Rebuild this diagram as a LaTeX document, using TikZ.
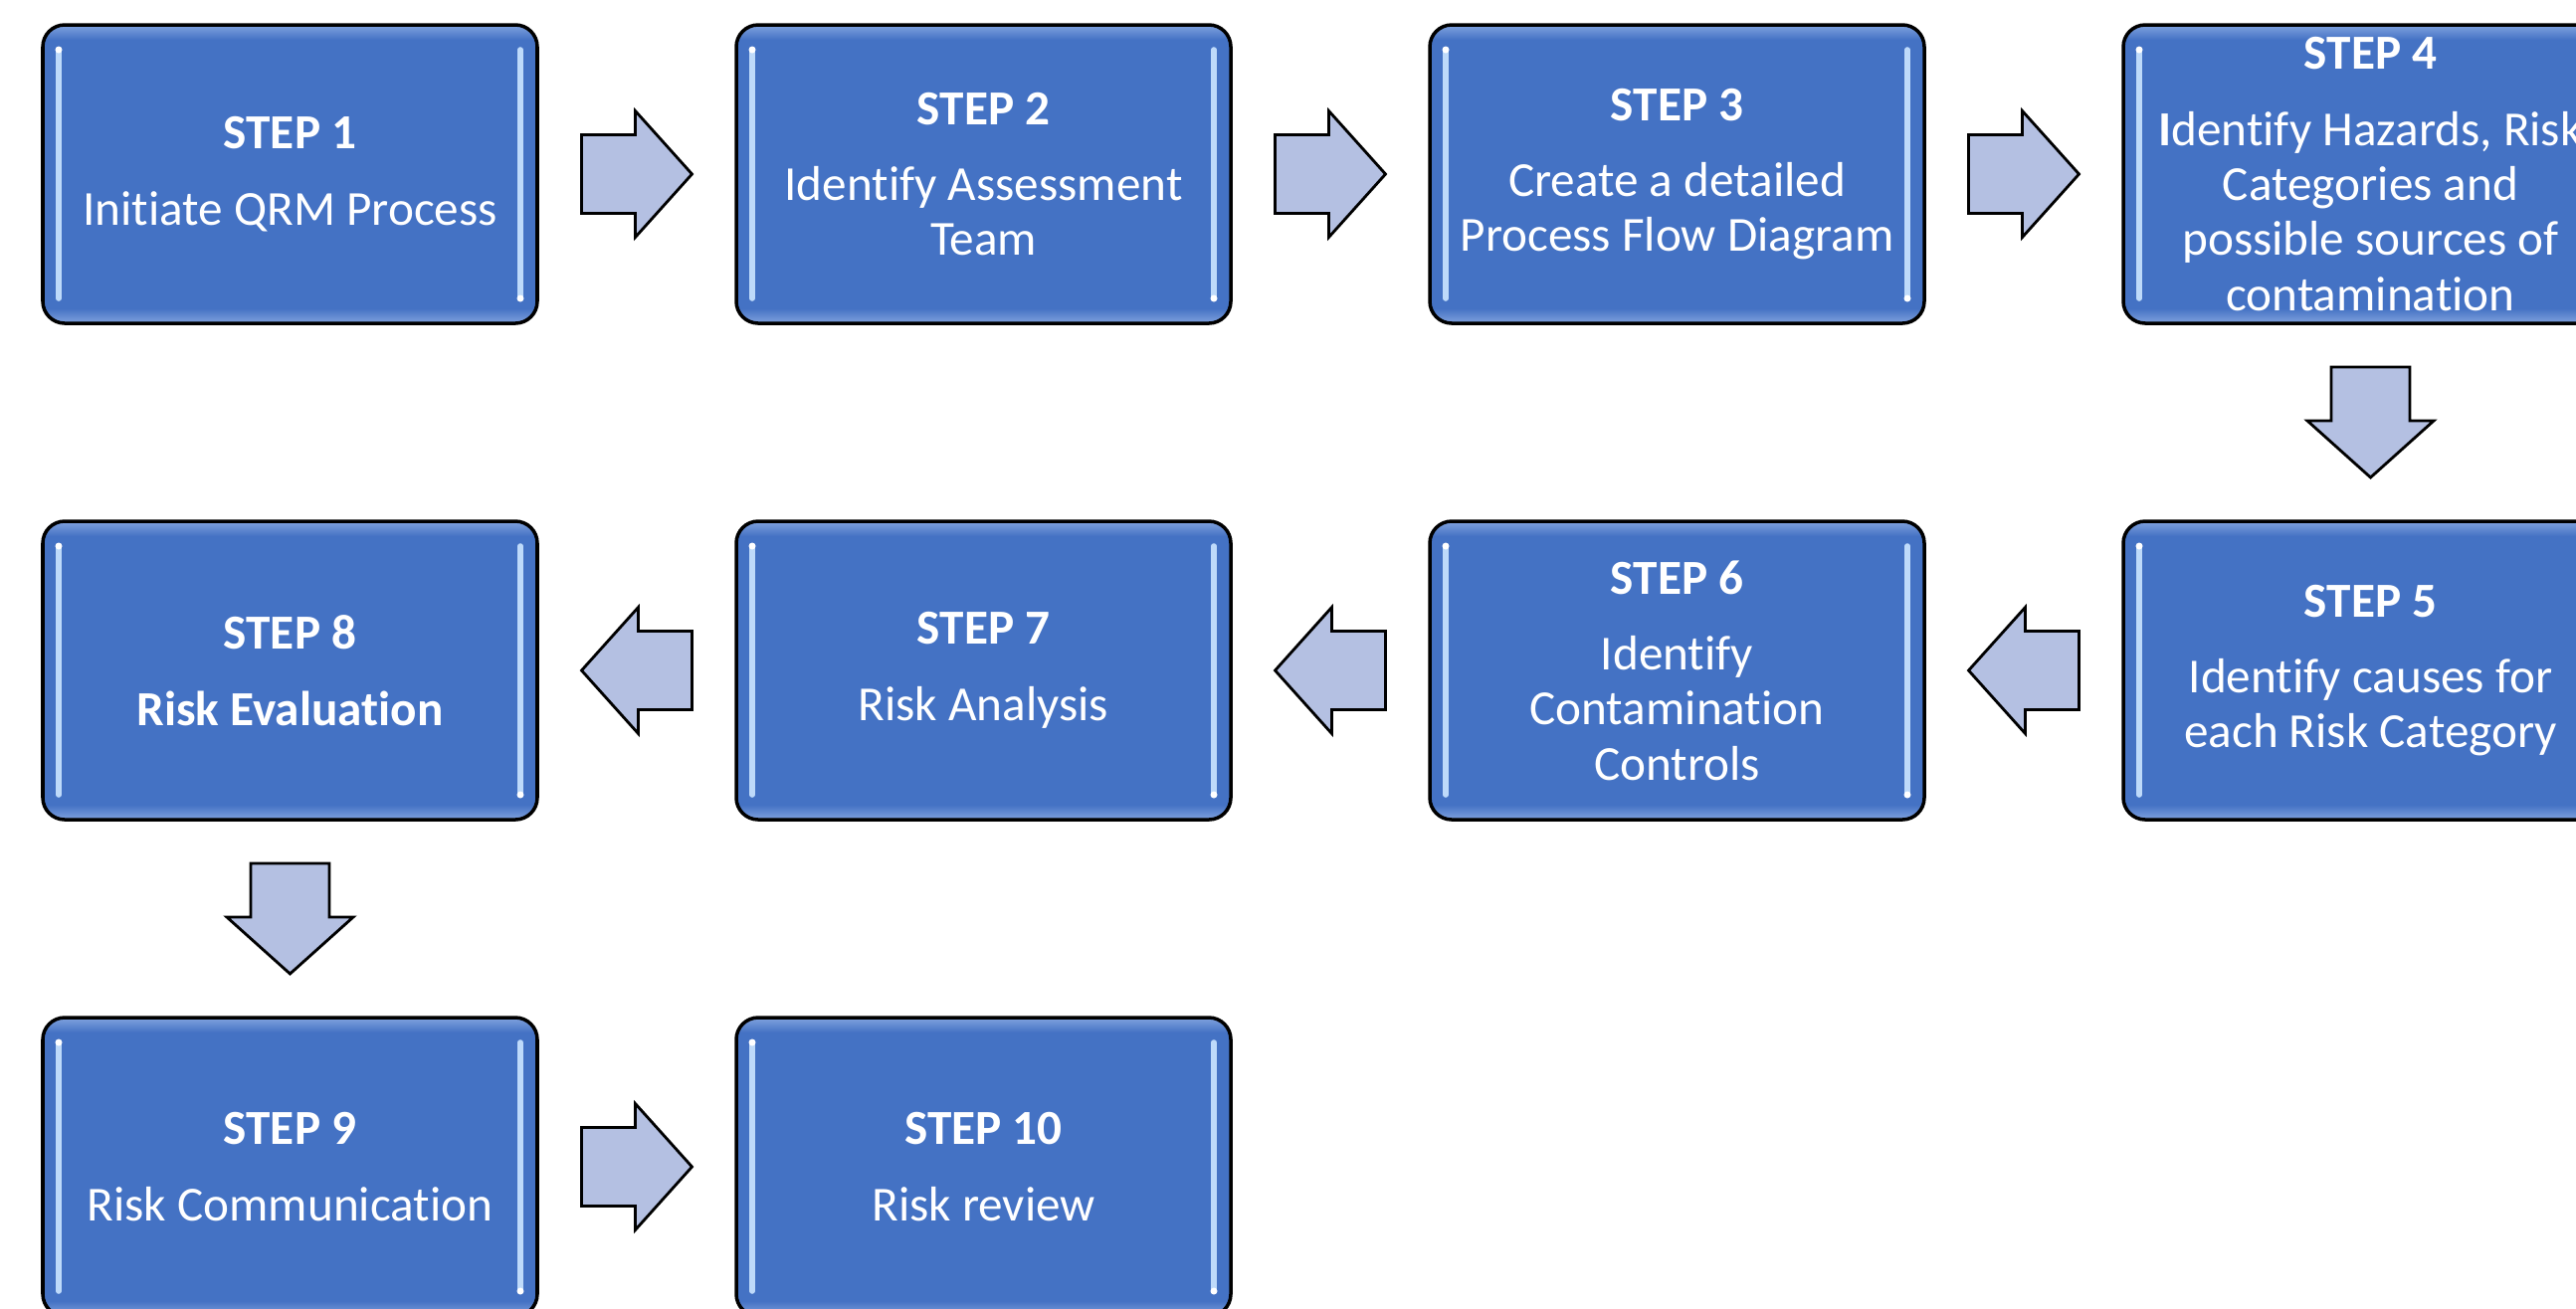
\documentclass[tikz,border=0pt]{standalone}
\usepackage{fontspec}
\setmainfont{Carlito}[Ligatures={NoCommon}]
\usepackage{tikz}
\usetikzlibrary{calc}
\definecolor{boxblue}{RGB}{68,114,196}
\definecolor{boxedge}{RGB}{128,162,222}
\definecolor{gloss}{RGB}{190,218,250}
\definecolor{arrowblue}{RGB}{180,192,226}
\pgfdeclareverticalshading{stepshade}{100bp}{color(0bp)=(boxedge); color(25bp)=(boxedge); color(27.5bp)=(boxblue); color(72.5bp)=(boxblue); color(75bp)=(boxedge); color(100bp)=(boxedge)}
\tikzset{
    stepbox/.style={
           rectangle,
           rounded corners=0.22cm,
           draw=black, line width=1pt,
           shade, shading=stepshade,
           minimum width=4.97cm,
           minimum height=3.0cm,
           inner sep=2pt,
           align=center,
           text=white,
           font=\fontsize{14}{15.7}\selectfont,
           path picture={
              \draw[gloss, line width=1.6pt, line cap=round]
                ($(path picture bounding box.north west)+(0.16,-0.25)$) -- ($(path picture bounding box.south west)+(0.16,0.25)$);
              \draw[gloss, line width=1.6pt, line cap=round]
                ($(path picture bounding box.north east)+(-0.17,-0.25)$) -- ($(path picture bounding box.south east)+(-0.17,0.25)$);
              \fill[white] ($(path picture bounding box.north west)+(0.16,-0.25)$) circle (0.035);
              \fill[white] ($(path picture bounding box.south east)+(-0.17,0.25)$) circle (0.035);
           }
           },
    blockarrow/.style={
           draw=black, line width=0.8pt,
           fill=arrowblue,
           to path={
              let \p1=($(\tikztotarget)-(\tikztostart)$),
                  \n1={atan2(\y1,\x1)},
                  \p2=($(\tikztostart)!0.5!(\tikztotarget)$) in
              ($(\p2)+(\n1+180:0.555)+(\n1+90:0.395)$) --
              ($(\p2)+(\n1+180:0.015)+(\n1+90:0.395)$) --
              ($(\p2)+(\n1+180:0.015)+(\n1+90:0.635)$) --
              ($(\p2)+(\n1:0.555)$) --
              ($(\p2)+(\n1+180:0.015)+(\n1-90:0.635)$) --
              ($(\p2)+(\n1+180:0.015)+(\n1-90:0.395)$) --
              ($(\p2)+(\n1+180:0.555)+(\n1-90:0.395)$) -- cycle
           }
           },
}

\begin{document}
\begin{tikzpicture}

\useasboundingbox (0,0) rectangle (25.89,-13.15);
\clip (0,0) rectangle (25.89,-13.15);

% Row 1
\node[stepbox] (INITIATE) at (2.915,-1.75) {\textbf{STEP 1}\\[6.1pt]Initiate QRM Process};

\node[stepbox, right of=INITIATE, node distance=6.97cm] (TEAM) {\textbf{STEP 2}\\[6.1pt]Identify Assessment\\Team};

\node[stepbox, right of=TEAM, node distance=6.97cm] (FLOW) {\textbf{STEP 3}\\[6.1pt]Create a detailed\\Process Flow Diagram};

\node[stepbox, right of=FLOW, node distance=6.97cm] (HAZARDS) {\textbf{STEP 4}\\[6.1pt]\textbf{I}dentify Hazards, Risk\\Categories and\\possible sources of\\contamination};

% Row 2
\node[stepbox, below of=HAZARDS, node distance=4.99cm] (CAUSES) {\textbf{STEP 5}\\[6.1pt]Identify causes for\\each Risk Category};

\node[stepbox, left of=CAUSES, node distance=6.97cm] (CONTROLS) {\textbf{STEP 6}\\[6.1pt]Identify\\Contamination\\Controls};

\node[stepbox, left of=CONTROLS, node distance=6.97cm] (ANALYSIS) {\textbf{STEP 7}\\[6.1pt]Risk Analysis};

\node[stepbox, left of=ANALYSIS, node distance=6.97cm] (EVALUATION) {\textbf{STEP 8}\\[6.1pt]\textbf{Risk Evaluation}};

% Row 3
\node[stepbox, below of=EVALUATION, node distance=4.99cm] (COMMUNICATION) {\textbf{STEP 9}\\[6.1pt]Risk Communication};

\node[stepbox, right of=COMMUNICATION, node distance=6.97cm] (REVIEW) {\textbf{STEP 10}\\[6.1pt]Risk review};

\path (INITIATE)      edge[blockarrow] (TEAM)
      (TEAM)          edge[blockarrow] (FLOW)
      (FLOW)          edge[blockarrow] (HAZARDS)
      (HAZARDS)       edge[blockarrow] (CAUSES)
      (CAUSES)        edge[blockarrow] (CONTROLS)
      (CONTROLS)      edge[blockarrow] (ANALYSIS)
      (ANALYSIS)      edge[blockarrow] (EVALUATION)
      (EVALUATION)    edge[blockarrow] (COMMUNICATION)
      (COMMUNICATION) edge[blockarrow] (REVIEW)
;

\end{tikzpicture}
\end{document}
